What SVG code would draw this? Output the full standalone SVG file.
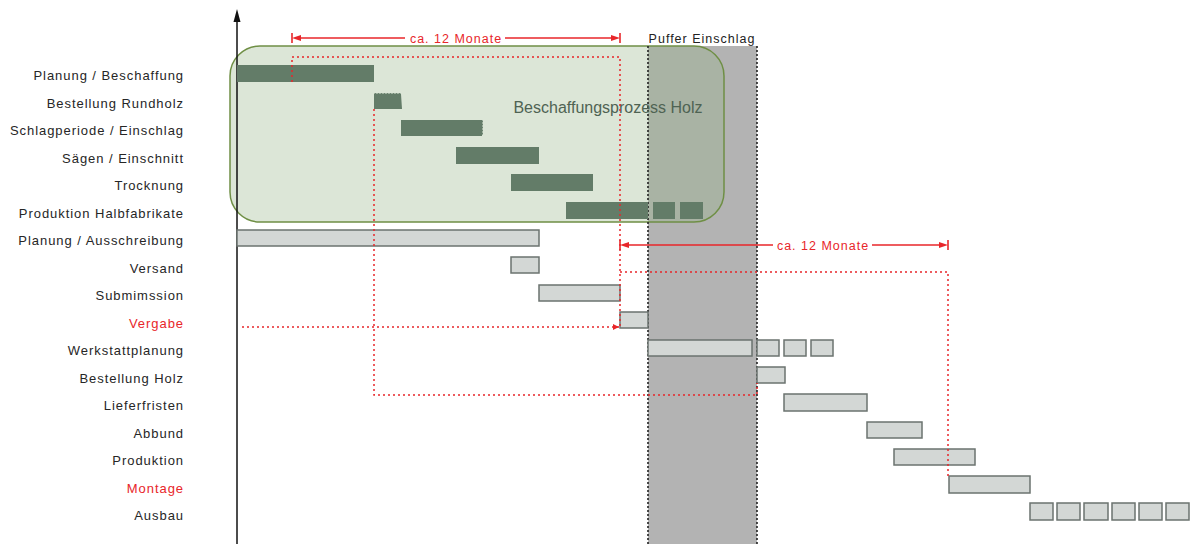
<svg xmlns="http://www.w3.org/2000/svg" width="1195" height="544" viewBox="0 0 1195 544">
<style>
  .lbl{font-family:"Liberation Sans",Arial,sans-serif;font-size:13px;fill:#262626;text-anchor:end;letter-spacing:0.95px}
  .red{fill:#e8262a}
  .dk{fill:#637c68}
  .gb{fill:#d3d7d5;stroke:#6b736f;stroke-width:1.5}
  .rd{fill:none;stroke:#e8262a;stroke-width:1.5;stroke-dasharray:2 3}
  .bd{fill:none;stroke:#222;stroke-width:1.6;stroke-dasharray:2 2}
  .dim{stroke:#e8262a;stroke-width:1.6;fill:none}
  .dimt{font-family:"Liberation Sans",Arial,sans-serif;font-size:12.5px;fill:#e8262a;text-anchor:middle;letter-spacing:1px}
</style>
<defs>
  <marker id="ah" viewBox="0 0 10 10" refX="10" refY="5" markerWidth="8" markerHeight="6" orient="auto" markerUnits="userSpaceOnUse">
    <path d="M0,0 L10,5 L0,10 z" fill="#e8262a"/>
  </marker>
</defs>
<rect width="1195" height="544" fill="#fff"/>

<!-- buffer band -->
<g id="puffer">
  <rect x="648" y="46" width="109" height="498" fill="#b3b3b3"/>
  <text x="702" y="43" style="font-family:'Liberation Sans',Arial,sans-serif;font-size:12.5px;fill:#222;text-anchor:middle;letter-spacing:1px">Puffer Einschlag</text>
</g>

<!-- procurement box -->
<g id="beschaffung">
  <rect x="230" y="46" width="494" height="176" rx="30" ry="30" fill="#95b485" fill-opacity="0.33" stroke="#6f8f45" stroke-width="1.5"/>
</g>

<g id="band-lines">
  <line class="bd" x1="648" y1="46" x2="648" y2="544"/>
  <line class="bd" x1="757" y1="46" x2="757" y2="544"/>
</g>

<!-- axis -->
<g id="axis">
  <line x1="237" y1="18" x2="237" y2="544" stroke="#111" stroke-width="1.5"/>
  <path d="M237,9 L240.5,22 L233.5,22 z" fill="#111"/>
</g>

<!-- labels -->
<g id="labels">
  <text class="lbl" x="184" y="80">Planung / Beschaffung</text>
  <text class="lbl" x="184" y="107.5">Bestellung Rundholz</text>
  <text class="lbl" x="184" y="135">Schlagperiode / Einschlag</text>
  <text class="lbl" x="184" y="162.5">Sägen / Einschnitt</text>
  <text class="lbl" x="184" y="190">Trocknung</text>
  <text class="lbl" x="184" y="217.5">Produktion Halbfabrikate</text>
  <text class="lbl" x="184" y="245">Planung / Ausschreibung</text>
  <text class="lbl" x="184" y="272.5">Versand</text>
  <text class="lbl" x="184" y="300">Submimssion</text>
  <text class="lbl" x="184" y="327.5" style="fill:#e8262a">Vergabe</text>
  <text class="lbl" x="184" y="355">Werkstattplanung</text>
  <text class="lbl" x="184" y="382.5">Bestellung Holz</text>
  <text class="lbl" x="184" y="410">Lieferfristen</text>
  <text class="lbl" x="184" y="437.5">Abbund</text>
  <text class="lbl" x="184" y="465">Produktion</text>
  <text class="lbl" x="184" y="492.5" style="fill:#e8262a">Montage</text>
  <text class="lbl" x="184" y="520">Ausbau</text>
</g>

<!-- dark green bars -->
<g id="bars-holz">
  <rect class="dk" x="237" y="65" width="137" height="17"/>
  <path class="dk" d="M374,94 q1.5,-2 3,0 q1.5,-2 3,0 q1.5,-2 3,0 q1.5,-2 3,0 q1.5,-2 3,0 q1.5,-2 3,0 q1.5,-2 3,0 q1.5,-2 3,0 q1.5,-2 3,0 L402,109 L374,109 z"/>
  <path class="dk" d="M401,120 L482,120 q2,1.5 0,3 q2,1.5 0,3 q2,1.5 0,3 q2,1.5 0,3 q2,1.5 0,3 l0,1 L401,136 z"/>
  <rect class="dk" x="456" y="147" width="83" height="17"/>
  <rect class="dk" x="511" y="174" width="82" height="17"/>
  <rect class="dk" x="566" y="202" width="82" height="17"/>
  <rect class="dk" x="653" y="202" width="22" height="17"/>
  <rect class="dk" x="680" y="202" width="23" height="17"/>
  <text x="608" y="113" style="font-family:'Liberation Sans',Arial,sans-serif;font-size:16px;fill:#4f6353;text-anchor:middle">Beschaffungsprozess Holz</text>
</g>

<!-- gray bars -->
<g id="bars-bau">
  <rect class="gb" x="237" y="230" width="302" height="16"/>
  <rect class="gb" x="511" y="257" width="28" height="16"/>
  <rect class="gb" x="539" y="285" width="81" height="16"/>
  <rect class="gb" x="620" y="312" width="28" height="16"/>
  <rect class="gb" x="648" y="340" width="104" height="16"/>
  <rect class="gb" x="757" y="340" width="22" height="16"/>
  <rect class="gb" x="784" y="340" width="22" height="16"/>
  <rect class="gb" x="811" y="340" width="22" height="16"/>
  <rect class="gb" x="757" y="367" width="28" height="16"/>
  <rect class="gb" x="784" y="394" width="83" height="17"/>
  <rect class="gb" x="867" y="422" width="55" height="16"/>
  <rect class="gb" x="894" y="449" width="81" height="16"/>
  <rect class="gb" x="949" y="476" width="81" height="17"/>
  <rect class="gb" x="1030" y="503" width="23" height="17"/>
  <rect class="gb" x="1057" y="503" width="23" height="17"/>
  <rect class="gb" x="1084" y="503" width="24" height="17"/>
  <rect class="gb" x="1112" y="503" width="23" height="17"/>
  <rect class="gb" x="1139" y="503" width="23" height="17"/>
  <rect class="gb" x="1166" y="503" width="23" height="17"/>
</g>

<!-- connectors -->
<g id="connectors">
  <polyline class="rd" points="292,82 292,57 620,57 620,328"/>
  <polyline class="rd" points="374,109 374,395 757,395 757,383"/>
  <polyline class="rd" points="620,272 948,272 948,476"/>
  <line class="rd" x1="242" y1="327" x2="619" y2="327" marker-end="url(#ah)"/>

  <!-- dimension 1 -->
  <line class="dim" x1="292" y1="33" x2="292" y2="43"/>
  <line class="dim" x1="620" y1="33" x2="620" y2="43"/>
  <line class="dim" x1="300" y1="38" x2="405" y2="38"/>
  <line class="dim" x1="505" y1="38" x2="612" y2="38"/>
  <path class="red" d="M292,38 L301,35 L301,41 z"/>
  <path class="red" d="M620,38 L611,35 L611,41 z"/>
  <text class="dimt" x="456" y="43">ca. 12 Monate</text>

  <!-- dimension 2 -->
  <line class="dim" x1="620" y1="240" x2="620" y2="250"/>
  <line class="dim" x1="948" y1="240" x2="948" y2="250"/>
  <line class="dim" x1="628" y1="245" x2="773" y2="245"/>
  <line class="dim" x1="872" y1="245" x2="940" y2="245"/>
  <path class="red" d="M620,245 L629,242 L629,248 z"/>
  <path class="red" d="M948,245 L939,242 L939,248 z"/>
  <text class="dimt" x="823" y="250">ca. 12 Monate</text>
</g>
</svg>
